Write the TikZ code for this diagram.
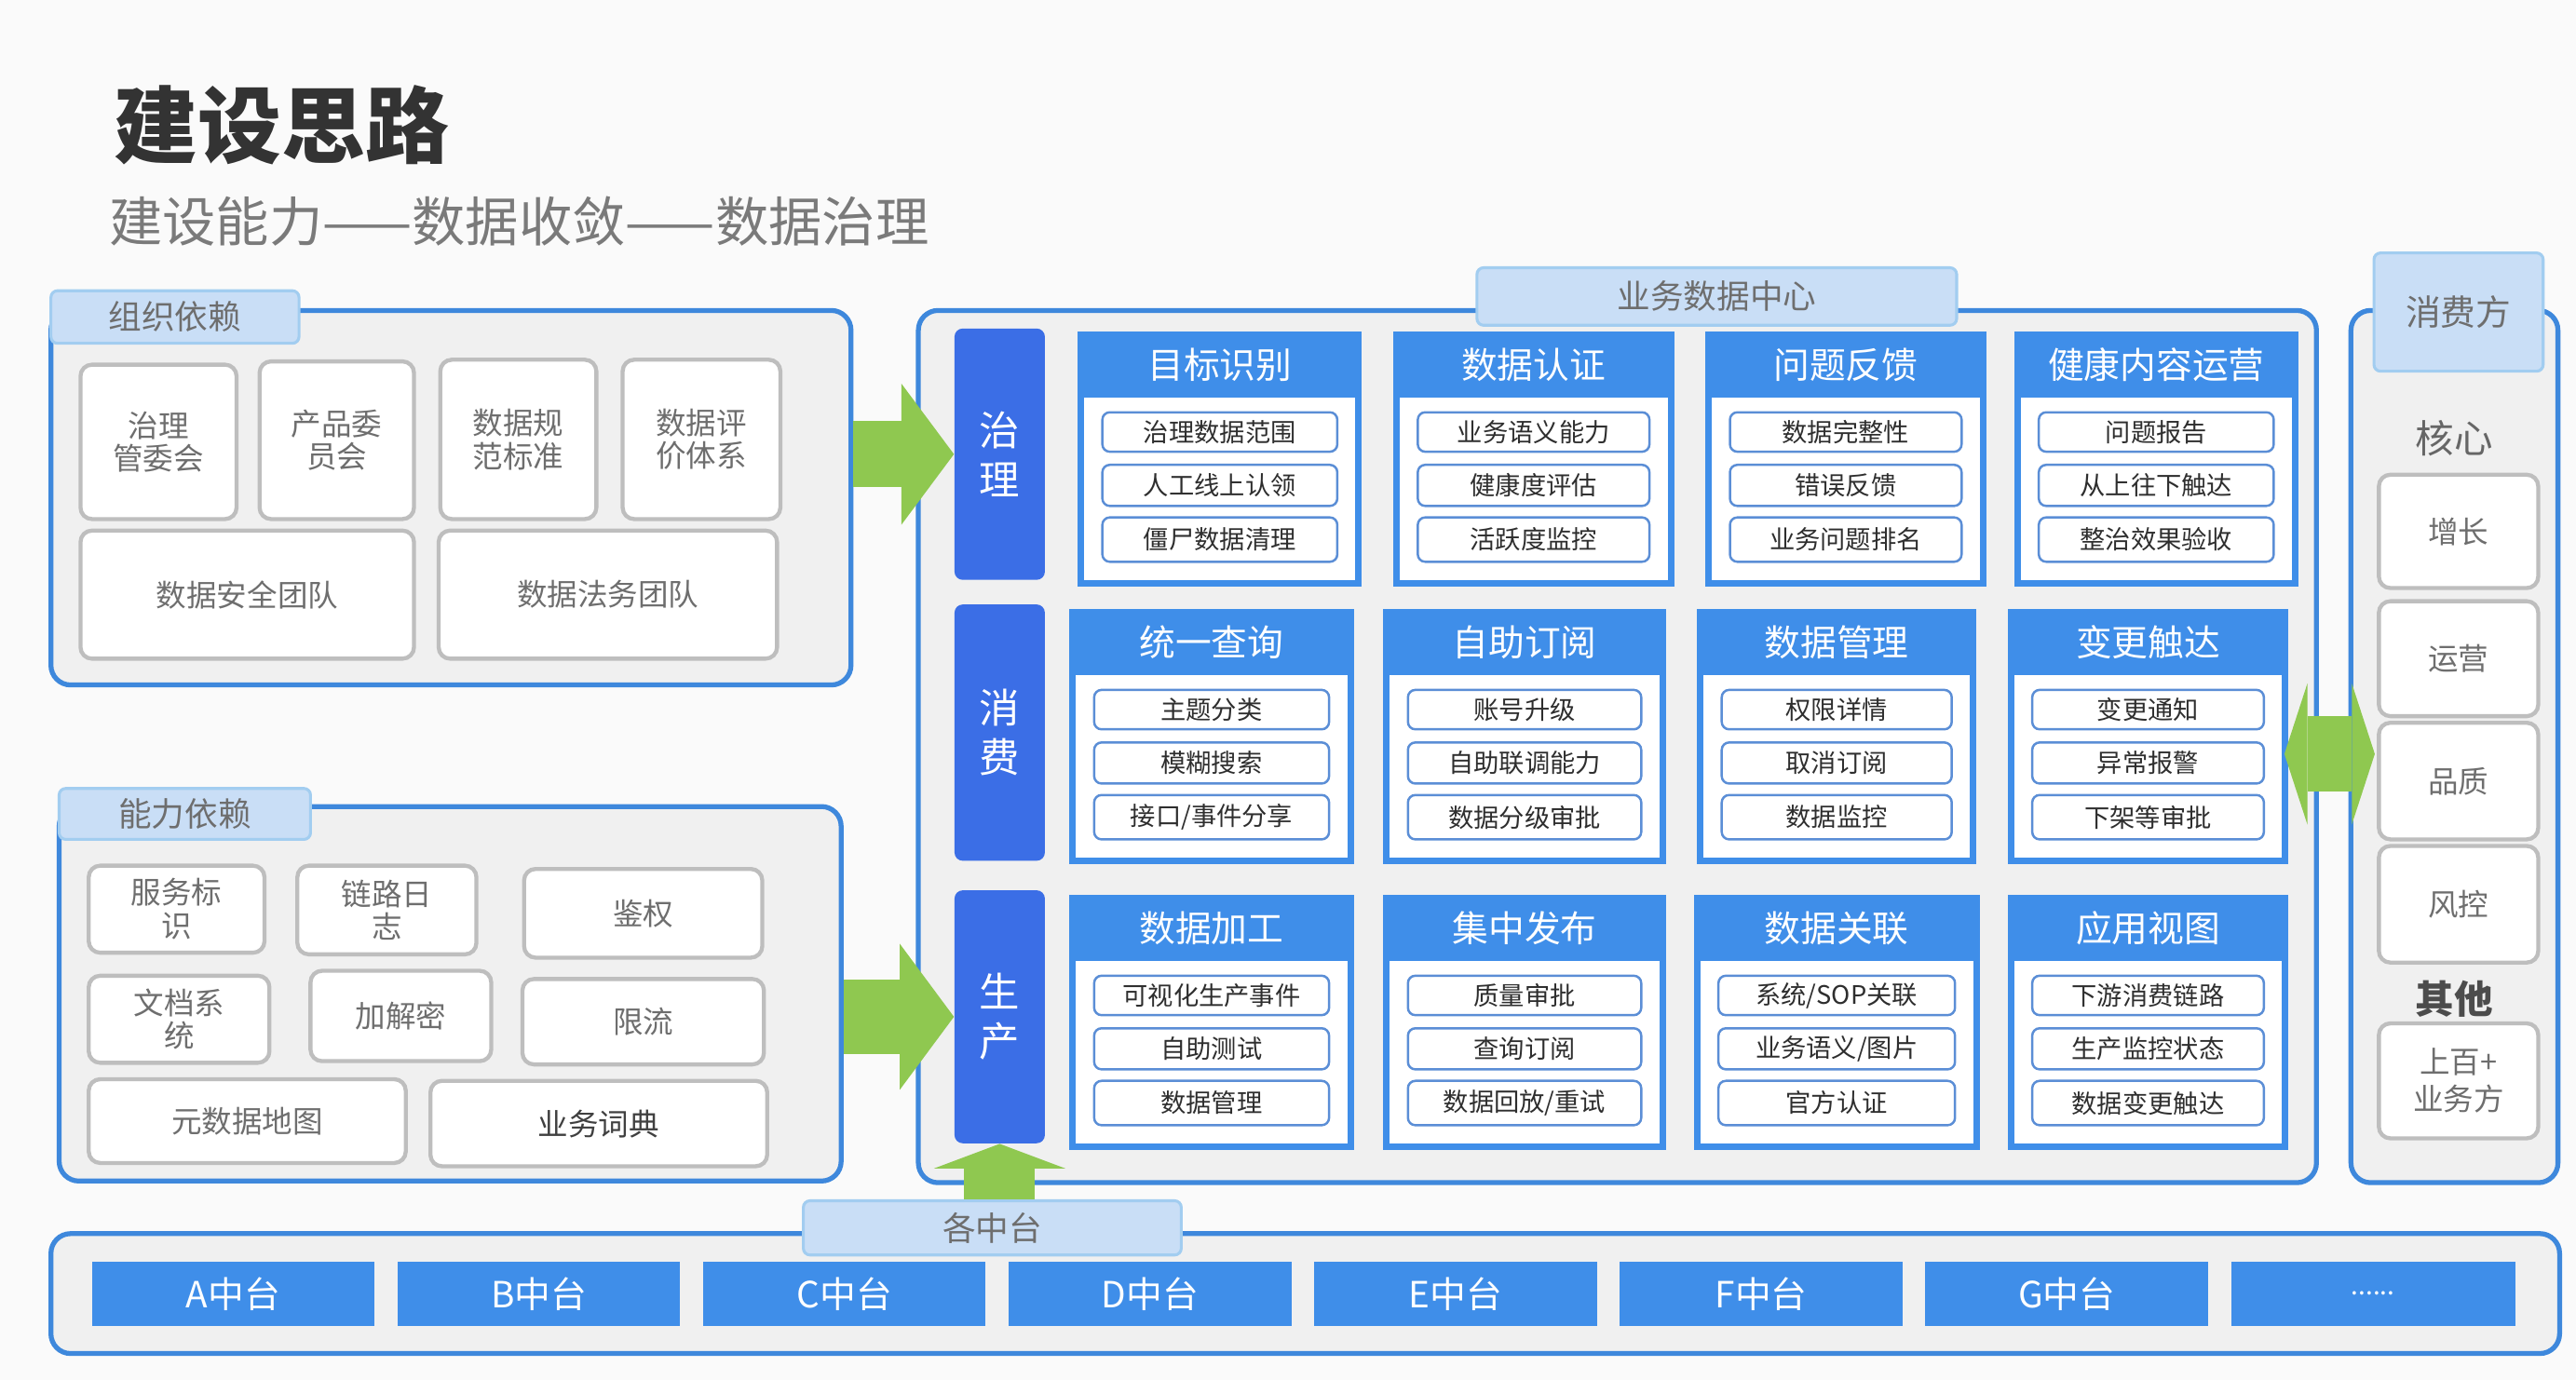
\documentclass[tikz,border=0pt]{standalone}
\usepackage{fontspec}
\setmainfont{Noto Sans CJK SC}
\usetikzlibrary{arrows.meta}
\definecolor{paperbg}{HTML}{FAFAFA}
\definecolor{panelblue}{HTML}{3E88DC}
\definecolor{panelgray}{HTML}{F0F0F0}
\definecolor{cardblue}{HTML}{3F8EE9}
\definecolor{rowblue}{HTML}{3B6EE6}
\definecolor{tagfill}{HTML}{C9DEF6}
\definecolor{tagline}{HTML}{A2CDF0}
\definecolor{boxline}{HTML}{BEBEBE}
\definecolor{itemline}{HTML}{5B8ED6}
\definecolor{arrowgreen}{HTML}{8FC850}
\definecolor{textgray}{HTML}{6E6E6E}

\begin{document}
\begin{tikzpicture}[x=0.2mm, y=-0.2mm,
  spanbox/.style args={#1/#2/#3/#4}{at={({((#1)+(#3))/2},{((#2)+(#4))/2})}, minimum width={((#3)-(#1))*0.2mm}, minimum height={((#4)-(#2))*0.2mm}},
  panel/.style={draw=panelblue, line width=1.7pt, fill=panelgray, rounded corners=2.4mm, inner sep=0pt},
  tag/.style={draw=tagline, line width=1pt, fill=tagfill, rounded corners=0.8mm, inner sep=0pt, text=textgray, font=\fontsize{11.5}{13}\selectfont},
  gbox/.style={draw=boxline, line width=1.4pt, fill=white, rounded corners=1.4mm, inner sep=0pt, align=center, text=textgray, font=\fontsize{10.5}{11.5}\selectfont},
  rowlab/.style={fill=rowblue, rounded corners=1mm, inner sep=0pt, align=center, text=white, font=\fontsize{14}{17}\selectfont},
  card/.style={fill=cardblue, inner sep=0pt},
  cardhead/.style={inner sep=0pt, text=white, font=\fontsize{12.5}{14}\selectfont},
  cardbody/.style={fill=white, inner sep=0pt},
  item/.style={draw=itemline, line width=0.8pt, fill=white, rounded corners=0.9mm, inner sep=0pt, text=black!82, font=\fontsize{8.8}{10}\selectfont},
  platform/.style={fill=cardblue, inner sep=0pt, text=white, font=\fontsize{12.5}{14}\selectfont},
  bigarrow/.style={arrowgreen, line width=8mm}
]
  % Background
  \fill[paperbg] (0,0) rectangle (1568,840);

  % Title
  \node[anchor=west, inner sep=0pt, text=black!80, font=\fontsize{29}{33}\selectfont\bfseries] (title) at (69,76) {建设思路};
  \node[anchor=west, inner sep=0pt, text=black!52, font=\fontsize{18.5}{21}\selectfont] (subtitle) at (66,135) {建设能力——数据收敛——数据治理};

  % Panels
  \node[panel, spanbox=31/189/518/417] (orgpanel) {};
  \node[panel, spanbox=36/491/512/719] (abilpanel) {};
  \node[panel, spanbox=559/189/1410/720] (bizpanel) {};
  \node[panel, spanbox=1431/189/1557/720] (usrpanel) {};
  \node[panel, spanbox=31/751/1558/824] (ptpanel) {};

  % Tags
  \node[tag, spanbox=31/177/182/209] (orgtag) {组织依赖};
  \node[tag, spanbox=36/480/189/511] (abiltag) {能力依赖};
  \node[tag, spanbox=899/163/1191/198] (biztag) {业务数据中心};
  \node[tag, spanbox=1445/154/1548/226, font=\fontsize{12.2}{14}\selectfont] (usrtag) {消费方};
  \node[tag, spanbox=489/731/719/764] (pttag) {各中台};

  % Organisation dependencies
  \node[gbox, spanbox=49/222/144/316] (govcmte) {治理\\管委会};
  \node[gbox, spanbox=158/220/252/316] (prodcmte) {产品委\\员会};
  \node[gbox, spanbox=268/219/363/316] (stdspec) {数据规\\范标准};
  \node[gbox, spanbox=379/219/475/316] (evalsys) {数据评\\价体系};
  \node[gbox, spanbox=49/323/252/401] (secteam) {数据安全团队};
  \node[gbox, spanbox=267/323/473/401] (lawteam) {数据法务团队};

  % Ability dependencies
  \node[gbox, spanbox=54/527/161/580] (svcid) {服务标\\识};
  \node[gbox, spanbox=181/527/290/581] (tracelog) {链路日\\志};
  \node[gbox, spanbox=319/529/464/583] (authz) {鉴权};
  \node[gbox, spanbox=54/594/164/647] (docsys) {文档系\\统};
  \node[gbox, spanbox=189/591/299/646] (crypto) {加解密};
  \node[gbox, spanbox=318/596/465/648] (ratelim) {限流};
  \node[gbox, spanbox=54/657/247/708] (metamap) {元数据地图};
  \node[gbox, spanbox=262/658/467/710, text=black!75] (glossary) {业务词典};

  % Row labels
  \foreach \nm/\ya/\yb/\txt in {gvlab/200/353/治\\理, cslab/368/524/消\\费, sclab/542/696/生\\产}
    \node[rowlab, spanbox=581/\ya/636/\yb] (\nm) {\txt};

  % Cards
  \foreach \nm/\xa/\xb/\ya/\ttl/\ia/\ib/\ic in {
    gov1/656/829/202/目标识别/治理数据范围/人工线上认领/僵尸数据清理,
    gov2/848/1019/202/数据认证/业务语义能力/健康度评估/活跃度监控,
    gov3/1038/1209/202/问题反馈/数据完整性/错误反馈/业务问题排名,
    gov4/1226/1399/202/健康内容运营/问题报告/从上往下触达/整治效果验收,
    use1/651/824/371/统一查询/主题分类/模糊搜索/{接口/事件分享},
    use2/842/1014/371/自助订阅/账号升级/自助联调能力/数据分级审批,
    use3/1033/1203/371/数据管理/权限详情/取消订阅/数据监控,
    use4/1222/1393/371/变更触达/变更通知/异常报警/下架等审批,
    pro1/651/824/545/数据加工/可视化生产事件/自助测试/数据管理,
    pro2/842/1014/545/集中发布/质量审批/查询订阅/{数据回放/重试},
    pro3/1031/1205/545/数据关联/{系统/SOP关联}/{业务语义/图片}/官方认证,
    pro4/1222/1393/545/应用视图/下游消费链路/生产监控状态/数据变更触达} {
    \node[card, spanbox=\xa/\ya/\xb/\ya+155] (\nm) {};
    \node[cardhead, spanbox=\xa/\ya/\xb/\ya+40] (\nm-h) {\ttl};
    \node[cardbody, spanbox=\xa+4/\ya+40/\xb-4/\ya+151] (\nm-b) {};
    \node[item, spanbox=\xa+15/\ya+49/\xb-15/\ya+73] (\nm-1) {\ia};
    \node[item, spanbox=\xa+15/\ya+81/\xb-15/\ya+106] (\nm-2) {\ib};
    \node[item, spanbox=\xa+15/\ya+113/\xb-15/\ya+140] (\nm-3) {\ic};
  }

  % Consumers
  \node[text=black!60, font=\fontsize{13.4}{15}\selectfont] (core) at (1494,267) {核心};
  \node[text=black!70, font=\fontsize{13.4}{15}\selectfont\bfseries] (other) at (1494,608) {其他};
  \foreach \nm/\ya/\yb/\txt in {grow/289/358/增长, oper/366/436/运营, qual/440/511/品质, risk/515/586/风控, many/623/693/上百+\\业务方}
    \node[gbox, spanbox=1448/\ya/1545/\yb, font=\fontsize{10.5}{13}\selectfont] (\nm) {\txt};

  % Platforms
  \foreach \i/\lt in {0/A,1/B,2/C,3/D,4/E,5/F,6/G}
    \node[platform, spanbox=56+\i*186/768/228+\i*186/807] (pt\i) {\lt{}中台};
  \node[platform, spanbox=1358/768/1531/807, font=\fontsize{9}{10}\selectfont] (ptmore) {......};

  % Arrows
  \draw[bigarrow, -{Triangle[length=6.4mm, width=17.2mm, line width=0pt]}] (orgpanel.east |- gvlab) -- (gvlab.west);
  \draw[bigarrow, line width=9mm, -{Triangle[length=6.6mm, width=17.8mm, line width=0pt]}] (abilpanel.east |- sclab) -- (sclab.west);
  \draw[bigarrow, line width=8.6mm, -{Triangle[length=3mm, width=16mm, line width=0pt]}] (sclab |- pttag.north) -- (sclab.south);
  \draw[bigarrow, line width=9.2mm, {Triangle[length=2.8mm, width=17.2mm, line width=0pt]}-{Triangle[length=2.8mm, width=17.2mm, line width=0pt]}, shorten <=-4.2mm, shorten >=-3.2mm] ([yshift=-0.9mm]bizpanel.east) -- ([yshift=-0.9mm]usrpanel.west);
\end{tikzpicture}
\end{document}
